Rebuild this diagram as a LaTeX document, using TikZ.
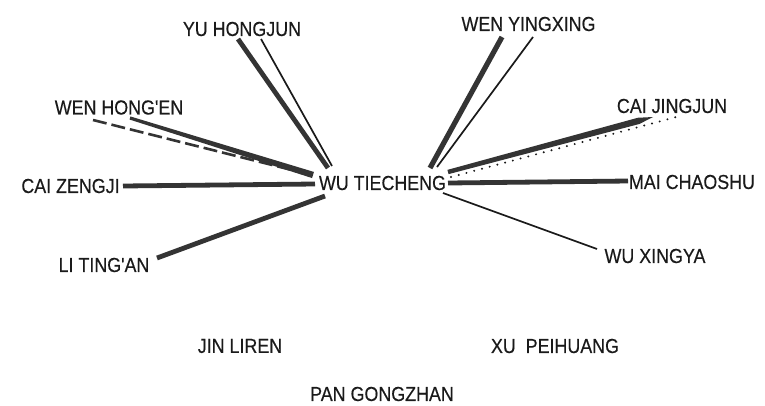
\documentclass[tikz,border=0pt]{standalone}
\usepackage{fontspec}
\newfontfamily\lblfont{Liberation Sans}[FakeStretch=0.88,FakeBold=0.3]
\usetikzlibrary{calc}
\definecolor{ink}{HTML}{1A1A1A}
\definecolor{bar}{HTML}{343434}
\begin{document}
\begin{tikzpicture}[x=1pt,y=-1pt,
  lbl/.style={inner sep=0pt,anchor=center,text=ink,font=\lblfont\fontsize{20.3}{22}\selectfont},
  heavy/.style={draw=bar,line width=4.8pt},
  light/.style={draw=ink,line width=1.7pt},
  dashline/.style={draw=bar,line width=2.6pt,dash pattern=on 14pt off 5pt},
  dotline/.style={draw=ink,line width=2.2pt,line cap=round,dash pattern=on 0pt off 8pt}]
\useasboundingbox (0,0) rectangle (765,405);
\fill[white] (0,0) rectangle (765,405);
% nodes
\node[lbl] (wu)   at (382.5,183) {WU TIECHENG};
\node[lbl] (yu)   at (242,29)    {YU HONGJUN};
\node[lbl] (wenh) at (119,107.5) {WEN HONG'EN};
\node[lbl] (caiz) at (70.5,186)  {CAI ZENGJI};
\node[lbl] (li)   at (104,265)   {LI TING'AN};
\node[lbl] (weny) at (528.5,24)  {WEN YINGXING};
\node[lbl] (caij) at (672,106)   {CAI JINGJUN};
\node[lbl] (mai)  at (692,182)   {MAI CHAOSHU};
\node[lbl] (wux)  at (655,256)   {WU XINGYA};
\node[lbl] (jin)  at (240,346)   {JIN LIREN};
\node[lbl] (xu)   at (555,346)   {XU\ \ PEIHUANG};
\node[lbl] (pan)  at (382,394)   {PAN GONGZHAN};
% connector end points
\coordinate (yuA) at (238,39);   \coordinate (wuYuA) at (328,168);
\coordinate (yuB) at (261,39);   \coordinate (wuYuB) at (332,166);
\coordinate (whA) at (93,120);   \coordinate (wuWhA) at (300,172);
\coordinate (whB) at (130,118);  \coordinate (wuWhB) at (313,175);
\coordinate (czA) at (123,186);  \coordinate (wuCz) at (315,184);
\coordinate (liA) at (157,258);  \coordinate (wuLi) at (325,196);
\coordinate (wyA) at (502,37);   \coordinate (wuWyA) at (430,168);
\coordinate (wyB) at (533,37);   \coordinate (wuWyB) at (437,167);
\coordinate (cjA) at (653,117);  \coordinate (wuCjA) at (448,172);
\coordinate (cjB) at (680,116);  \coordinate (wuCjB) at (451,177);
\coordinate (maA) at (628,181);  \coordinate (wuMa) at (448,183);
\coordinate (wxA) at (597,249);  \coordinate (wuWx) at (443,193);
% YU HONGJUN
\draw[heavy] (yuA) -- (wuYuA);
\draw[light] (yuB) -- (wuYuB);
% WEN HONG'EN
\draw[dashline] (whA) -- (wuWhA);
\fill[bar] ($(whB)!1.6pt!90:(wuWhB)$) -- ($(wuWhB)!3.2pt!-90:(whB)$)
  -- ($(wuWhB)!3.2pt!90:(whB)$) -- ($(whB)!1.6pt!-90:(wuWhB)$) -- cycle;
% CAI ZENGJI, LI TING'AN
\draw[heavy] (czA) -- (wuCz);
\draw[heavy] (liA) -- (wuLi);
% WEN YINGXING
\draw[heavy,line width=5.2pt] (wyA) -- (wuWyA);
\draw[light] (wyB) -- (wuWyB);
% CAI JINGJUN
\coordinate (cjM) at ($(wuCjA)!0.93!(cjA)$);
\fill[bar] ($(wuCjA)!2.2pt!90:(cjA)$) -- ($(cjM)!3.2pt!-90:(wuCjA)$) -- (cjA)
  -- ($(cjM)!3.2pt!90:(wuCjA)$) -- ($(wuCjA)!2.2pt!-90:(cjA)$) -- cycle;
\draw[dotline] (wuCjB) -- (cjB);
% MAI CHAOSHU, WU XINGYA
\draw[heavy] (wuMa) -- (maA);
\draw[light] (wuWx) -- (wxA);
\end{tikzpicture}
\end{document}
